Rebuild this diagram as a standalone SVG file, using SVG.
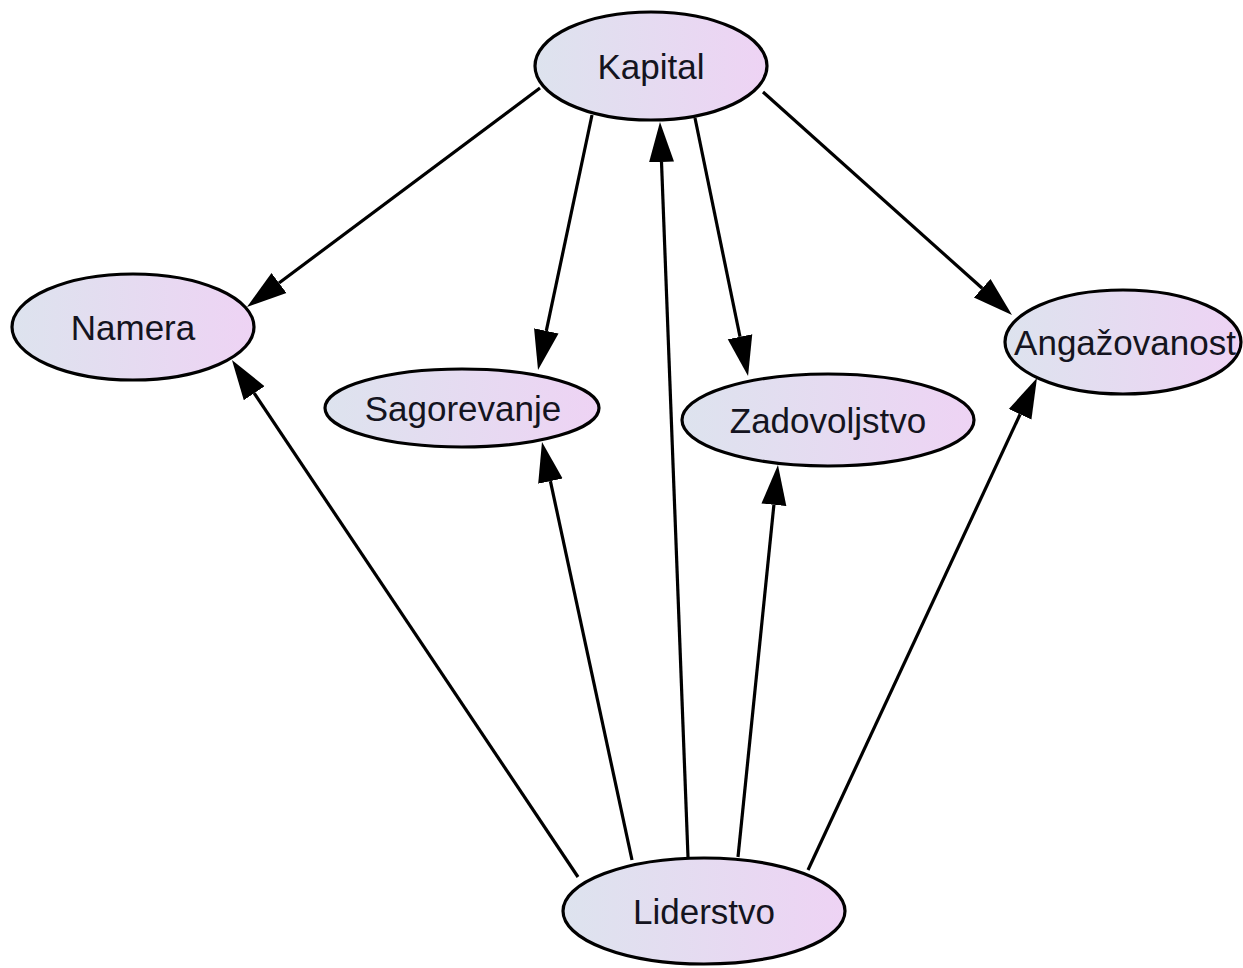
<svg xmlns="http://www.w3.org/2000/svg" width="1243" height="968" viewBox="0 0 1243 968">
<defs>
<linearGradient id="g" x1="0" y1="0" x2="1" y2="0">
<stop offset="0" stop-color="#dde3ee"/>
<stop offset="1" stop-color="#eed3f4"/>
</linearGradient>
<marker id="arr" markerUnits="userSpaceOnUse" viewBox="0 -14 42 28" markerWidth="42" markerHeight="28" refX="0" refY="0" orient="auto">
<path d="M0,-12.5 L40,0 L0,12.5 Z" fill="#000"/>
</marker>
<style>
.n ellipse{fill:url(#g);stroke:#000;stroke-width:3.2}
.n text{font-family:"Liberation Sans",Arial,sans-serif;font-size:35px;fill:#141420;text-anchor:middle}
.e line{stroke:#000;stroke-width:3.2;marker-end:url(#arr)}
</style>
</defs>
<rect width="1243" height="968" fill="#fff"/>
<g id="edges" class="e">
<line x1="540" y1="88" x2="279" y2="283"/>
<line x1="592" y1="115" x2="546.3" y2="330.9"/>
<line x1="688" y1="857" x2="661.5" y2="162"/>
<line x1="695" y1="118" x2="740" y2="336.8"/>
<line x1="763" y1="92" x2="982.2" y2="288.3"/>
<line x1="632" y1="860" x2="550.4" y2="481.1"/>
<line x1="738" y1="857" x2="773.9" y2="504.8"/>
<line x1="808" y1="870" x2="1020.1" y2="414.3"/>
<line x1="578" y1="877" x2="254.2" y2="393.2"/>
</g>
<g id="kapital" class="n"><ellipse cx="651" cy="66" rx="116" ry="54"/><text x="651" y="79">Kapital</text></g>
<g id="namera" class="n"><ellipse cx="133" cy="327" rx="121" ry="53"/><text x="133" y="340">Namera</text></g>
<g id="sagorevanje" class="n"><ellipse cx="462" cy="408" rx="137" ry="39"/><text x="463" y="421">Sagorevanje</text></g>
<g id="zadovoljstvo" class="n"><ellipse cx="828" cy="420" rx="146" ry="46"/><text x="828" y="433">Zadovoljstvo</text></g>
<g id="angazovanost" class="n"><ellipse cx="1123" cy="342" rx="118" ry="52"/><text x="1125" y="355">Angažovanost</text></g>
<g id="liderstvo" class="n"><ellipse cx="704" cy="911" rx="141" ry="53"/><text x="704" y="924">Liderstvo</text></g>
</svg>
